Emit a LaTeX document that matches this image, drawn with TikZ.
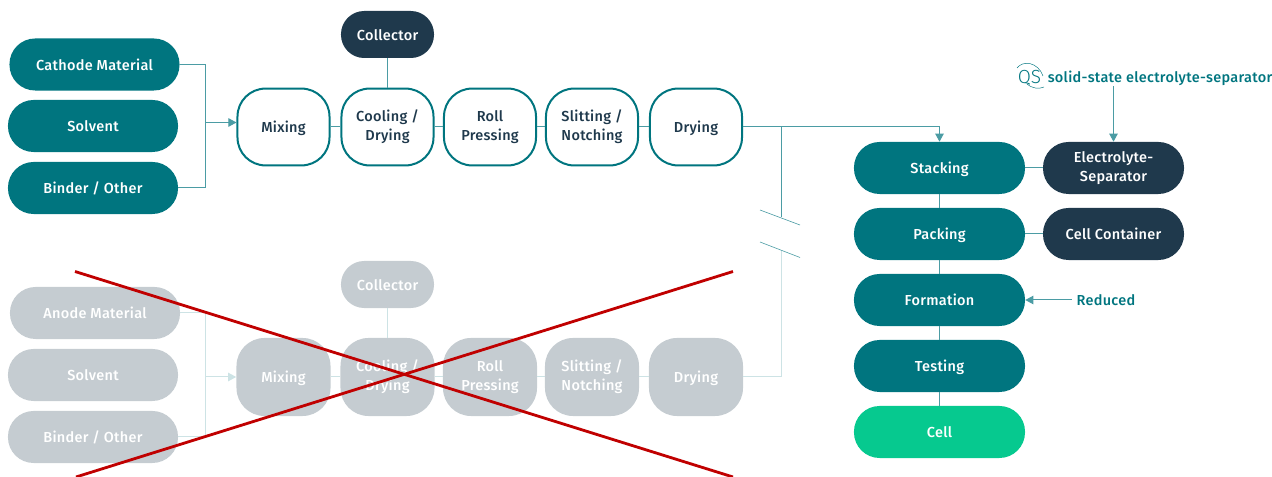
\documentclass[tikz,border=0pt]{standalone}
\usepackage{fontspec}
\setmainfont{Fira Sans Medium}[LetterSpace=2.0]
\newfontfamily\logofont{Fira Sans Light}
\usetikzlibrary{arrows.meta,calc,positioning}
\definecolor{qsteal}{HTML}{00757F}
\definecolor{qsnavy}{HTML}{1F394C}
\definecolor{qsgreen}{HTML}{06C98F}
\definecolor{qsgrey}{HTML}{C5CCD1}
\definecolor{qsline}{HTML}{4B9CA4}
\definecolor{qsfade}{HTML}{CDE3E5}
\definecolor{qsred}{HTML}{C00000}
\newcommand{\linestrut}{\rule[-2.2pt]{0pt}{12.8pt}}
\tikzset{
	txt/.style={font=\fontsize{10.3pt}{13.7pt}\selectfont,align=center,text=white,execute at begin node=\linestrut,execute at end node=\linestrut},
	pill/.style={txt,minimum width=4.25cm,minimum height=1.3cm,rounded corners=0.64cm,inner sep=0pt},
	shortpill/.style={pill,minimum width=3.525cm},
	capsule/.style={txt,minimum width=2.325cm,minimum height=1.175cm,rounded corners=0.58cm,inner sep=0pt},
	proc/.style={txt,text=qsnavy,draw=qsteal,line width=0.05cm,fill=white,minimum width=2.3cm,minimum height=1.92cm,rounded corners=0.7cm,inner sep=0pt},
	ghost/.style={txt,minimum width=2.35cm,minimum height=1.95cm,rounded corners=0.7cm,inner sep=0pt,fill=qsgrey},
	conn/.style={qsline,line width=0.025cm},
	fade/.style={qsfade,line width=0.025cm},
	tip/.style={-{Triangle[length=0.2cm,width=0.21cm]}},
}
\begin{document}
\begin{tikzpicture}[x=0.025cm,y=-0.025cm]
	\useasboundingbox (0,0) rectangle (1272,477);
	% cathode line
	\node[pill,fill=qsteal] (cathode) at (94.5,64.5) {Cathode Material};
	\node[pill,fill=qsteal] (solvent) at (93,126) {Solvent};
	\node[pill,fill=qsteal] (binder) at (93,188) {Binder / Other};
	\node[capsule,fill=qsnavy] (collector) at (387.5,34.5) {Collector};
	\node[proc] (mixing) at (283.5,127) {Mixing};
	\node[proc] (cooling) at (387.5,127) {Cooling /\\Drying};
	\node[proc] (roll) at (490,127) {Roll\\Pressing};
	\node[proc] (slitting) at (592,127) {Slitting /\\Notching};
	\node[proc] (drying) at (696,127) {Drying};
	\coordinate (merge) at (205.5,122.5);
	\coordinate (branch) at (781,127);
	\draw[conn] (cathode.east) -| (merge);
	\draw[conn] (binder.east) -| (merge);
	\draw[conn,tip] (merge) -- (merge -| mixing.west);
	\draw[conn] (collector) -- (cooling);
	\draw[conn] (mixing) -- (cooling);
	\draw[conn] (cooling) -- (roll);
	\draw[conn] (roll) -- (slitting);
	\draw[conn] (slitting) -- (drying);
	%%%%%
	% anode line
	\node[pill,fill=qsgrey] (anode) at (95,313) {Anode Material};
	\node[pill,fill=qsgrey] (solventb) at (93,375) {Solvent};
	\node[pill,fill=qsgrey] (binderb) at (93,437) {Binder / Other};
	\node[capsule,fill=qsgrey] (collectorb) at (387.5,284.5) {Collector};
	\node[ghost] (mixingb) at (283.5,377) {Mixing};
	\node[ghost] (coolingb) at (387.5,377) {Cooling /\\Drying};
	\node[ghost] (rollb) at (490,377) {Roll\\Pressing};
	\node[ghost] (slittingb) at (592,377) {Slitting /\\Notching};
	\node[ghost] (dryingb) at (696,377) {Drying};
	\coordinate (mergeb) at (205.5,377);
	\draw[fade] (anode.east) -| (mergeb);
	\draw[fade] (binderb.east) -| (mergeb);
	\draw[fade,tip] (mergeb) -- (mixingb.west);
	\draw[fade] (collectorb) -- (coolingb);
	\draw[fade] (mixingb) -- (coolingb);
	\draw[fade] (coolingb) -- (rollb);
	\draw[fade] (rollb) -- (slittingb);
	\draw[fade] (slittingb) -- (dryingb);
	%%%%%
	% cell assembly
	\node[pill,minimum width=4.275cm,fill=qsteal] (stacking) at (939.5,168) {Stacking};
	\node[pill,minimum width=4.275cm,fill=qsteal] (packing) at (939.5,234) {Packing};
	\node[pill,minimum width=4.275cm,fill=qsteal] (formation) at (939.5,300) {Formation};
	\node[pill,minimum width=4.275cm,fill=qsteal] (testing) at (939.5,366) {Testing};
	\node[pill,minimum width=4.275cm,fill=qsgreen] (cell) at (939.5,432) {Cell};
	\node[shortpill,fill=qsnavy] (separator) at (1113.5,168) {Electrolyte-\\Separator};
	\node[shortpill,fill=qsnavy] (container) at (1113.5,234) {Cell Container};
	\node[txt,text=qsteal] (reduced) at (1106,300) {Reduced};
	\node[txt,text=qsteal,inner xsep=0pt,inner ysep=0pt] (solid) at (1160,77) {solid-state electrolyte-separator};
	\node[txt,text=qsteal,inner sep=0pt,font=\logofont\fontsize{13.5pt}{14pt}\selectfont] (logo) at (1029.5,78) {QS};
	\draw[qsteal,line width=0.012cm] (1017,68) .. controls (1023,60) and (1038,62) .. (1043,76);
	\draw[qsteal,line width=0.012cm] (1027,84) .. controls (1033,89) and (1039,89) .. (1044,87);
	\coordinate (breaka) at (781,217.5);
	\coordinate (breakb) at (781,250);
	\coordinate (slasha) at (760,210);
	\coordinate (slashb) at (800,225);
	\coordinate (slashc) at (760,242);
	\coordinate (slashd) at (800,257.5);
	\draw[conn,tip] (drying.east) -| (stacking.north);
	\draw[conn] (branch) -- (breaka);
	\draw[fade] (dryingb.east) -| (breakb);
	\draw[conn,line width=0.015cm] (slasha) -- (slashb);
	\draw[conn,line width=0.015cm] (slashc) -- (slashd);
	\draw[conn] (stacking) -- (packing);
	\draw[conn] (packing) -- (formation);
	\draw[conn] (formation) -- (testing);
	\draw[conn] (testing) -- (cell);
	\draw[conn] (stacking) -- (separator);
	\draw[conn] (packing) -- (container);
	\draw[conn,tip] (reduced) -- (formation);
	\draw[conn,tip] (solid.south -| separator.north) -- (separator.north);
	%%%%%
	% cross
	\coordinate (crossa) at (75,271.5);
	\coordinate (crossb) at (733,271.5);
	\coordinate (crossc) at (76,477);
	\coordinate (crossd) at (733,477);
	\draw[qsred,line width=0.07cm] (crossa) -- (crossd);
	\draw[qsred,line width=0.07cm] (crossc) -- (crossb);
\end{tikzpicture}
\end{document}
